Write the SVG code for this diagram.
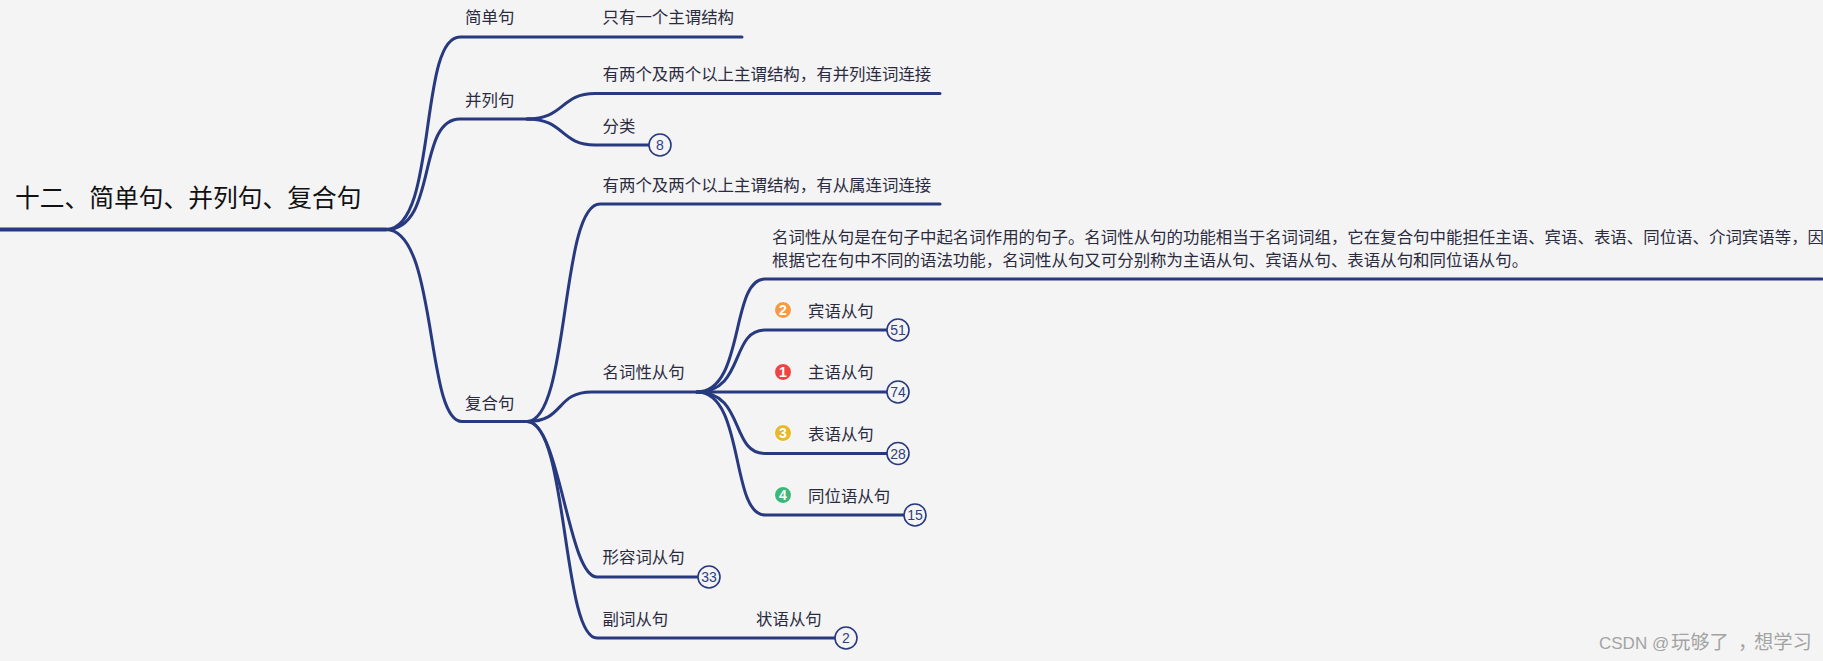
<svg xmlns="http://www.w3.org/2000/svg" width="1823" height="661" viewBox="0 0 1823 661">
<style>
text{font-family:"Noto Sans CJK SC","Liberation Sans",sans-serif;font-size:16.45px;fill:#2b2b3f}
.root{font-size:24.75px;fill:#111}
.c{fill:none;stroke:#283a7f;stroke-width:3;stroke-linecap:round}
.badge circle{fill:#f4f4f4;stroke:#283a7f;stroke-width:1.6}
.badge text{font-family:"Liberation Sans",sans-serif;font-size:14px;fill:#2f3f80;text-anchor:middle}
.ic circle{stroke:#fff;stroke-width:1}
.ic text{font-family:"Liberation Sans",sans-serif;font-size:14px;font-weight:700;fill:#fff;text-anchor:middle}
.wm{font-family:"Liberation Sans",sans-serif;font-size:17px;fill:#a3a3a3}
.wm .z{font-family:"Noto Sans CJK SC",sans-serif;font-size:19.3px;fill:#a3a3a3}
</style>
<rect width="1823" height="661" fill="#f4f4f4"/>
<g id="connectors">
<path class="c" style="stroke-width:4" d="M0 229.5H386"/>
<path class="c" d="M386 229.5C438 229.5 418 37 460 37H742"/>
<path class="c" d="M386 229.5C438 229.5 416 119 460 119H536"/>
<path class="c" d="M386 229.5C438 229.5 425 421.5 462 421.5H527"/>
<path class="c" d="M527 119C565 119 560 93.5 595 93.5H940"/>
<path class="c" d="M527 119C565 119 560 145 595 145H650"/>
<path class="c" d="M527 421.5C570 421.5 560 204 600 204H940"/>
<path class="c" d="M527 421.5C565 421.5 555 392 592 392H697"/>
<path class="c" d="M527 421.5C560 421.5 568 577 597 577H698"/>
<path class="c" d="M527 421.5C568 421.5 562 638 597 638H835"/>
<path class="c" d="M697 392C745 392 730 279 765 279H1822"/>
<path class="c" d="M697 392C745 392 730 330 765 330H887"/>
<path class="c" d="M697 392H887"/>
<path class="c" d="M697 392C745 392 730 453.5 765 453.5H887"/>
<path class="c" d="M697 392C745 392 730 515 765 515H904"/>
</g>
<g id="root"><text class="root" x="15" y="207">十二、简单句、并列句、复合句</text></g>
<g id="n-simple"><text x="465" y="23">简单句</text></g>
<g id="n-simple-1"><text x="602.5" y="23">只有一个主谓结构</text></g>
<g id="n-compound"><text x="465" y="106">并列句</text></g>
<g id="n-compound-1"><text x="602.5" y="80">有两个及两个以上主谓结构，有并列连词连接</text></g>
<g id="n-compound-2"><text x="602.5" y="132">分类</text><g class="badge"><circle cx="660" cy="145" r="11"/><text x="660" y="150">8</text></g></g>
<g id="n-complex"><text x="465" y="409">复合句</text></g>
<g id="n-complex-1"><text x="602.5" y="191">有两个及两个以上主谓结构，有从属连词连接</text></g>
<g id="n-noun"><text x="602.5" y="378">名词性从句</text></g>
<g id="n-noun-desc"><text x="772" y="243">名词性从句是在句子中起名词作用的句子。名词性从句的功能相当于名词词组，它在复合句中能担任主语、宾语、表语、同位语、介词宾语等，因</text><text x="772" y="266">根据它在句中不同的语法功能，名词性从句又可分别称为主语从句、宾语从句、表语从句和同位语从句。</text></g>
<g id="n-obj"><g class="ic"><circle cx="783" cy="310" r="8.5" fill="#f59a45"/><text x="783" y="315">2</text></g><text x="808" y="317">宾语从句</text><g class="badge"><circle cx="898" cy="330" r="11"/><text x="898" y="335">51</text></g></g>
<g id="n-subj"><g class="ic"><circle cx="783" cy="372" r="8.5" fill="#ef4444"/><text x="783" y="377">1</text></g><text x="808" y="378">主语从句</text><g class="badge"><circle cx="898" cy="392" r="11"/><text x="898" y="397">74</text></g></g>
<g id="n-pred"><g class="ic"><circle cx="783" cy="433" r="8.5" fill="#e9b92c"/><text x="783" y="438">3</text></g><text x="808" y="440">表语从句</text><g class="badge"><circle cx="898" cy="453.5" r="11"/><text x="898" y="458.5">28</text></g></g>
<g id="n-appo"><g class="ic"><circle cx="783" cy="495" r="8.5" fill="#3cb878"/><text x="783" y="500">4</text></g><text x="808" y="502">同位语从句</text><g class="badge"><circle cx="915" cy="515" r="11"/><text x="915" y="520">15</text></g></g>
<g id="n-adj"><text x="602.5" y="563">形容词从句</text><g class="badge"><circle cx="709" cy="577" r="11"/><text x="709" y="582">33</text></g></g>
<g id="n-adv"><text x="602.5" y="625">副词从句</text></g>
<g id="n-adv-1"><text x="756" y="625">状语从句</text><g class="badge"><circle cx="846" cy="638" r="11"/><text x="846" y="643">2</text></g></g>
<text class="wm" x="1599" y="649">CSDN @<tspan class="z" x="1671">玩够了</tspan><tspan class="z" x="1732" dx="6">，</tspan><tspan class="z" x="1754" font-size="18.5">想学习</tspan></text>
</svg>
